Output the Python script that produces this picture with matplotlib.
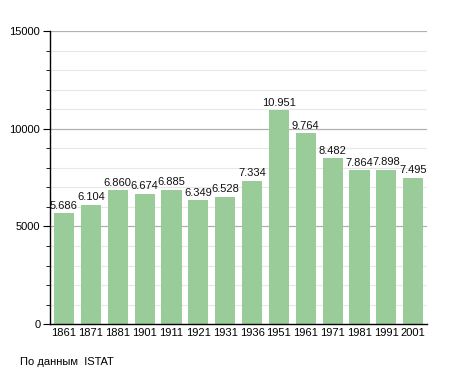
import matplotlib
matplotlib.use('Agg')
import matplotlib.pyplot as plt

anni = ['1861', '1871', '1881', '1901', '1911', '1921', '1931',
        '1936', '1951', '1961', '1971', '1981', '1991', '2001']
abitanti = [5686, 6104, 6860, 6674, 6885, 6349, 6528,
            7334, 10951, 9764, 8482, 7864, 7898, 7495]
etichette = ['5.686', '6.104', '6.860', '6.674', '6.885', '6.349', '6.528',
             '7.334', '10.951', '9.764', '8.482', '7.864', '7.898', '7.495']

plt.rcParams['font.family'] = ['Liberation Sans', 'DejaVu Sans']

fig = plt.figure(figsize=(4.55, 3.73), dpi=100)
ax = fig.add_axes([0.11, 0.131, 0.829, 0.786])

# griglia: minori ogni 1000, principali ogni 5000
for y in range(1000, 15001, 1000):
    if y % 5000 == 0:
        ax.axhline(y, color='#b0b0b0', linewidth=0.9, zorder=0)
    else:
        ax.axhline(y, color='#e8e8e8', linewidth=0.8, zorder=0)

x = range(len(anni))
ax.bar(x, abitanti, width=0.75, color='#99cc99', zorder=2)

for xi, v, lab in zip(x, abitanti, etichette):
    ax.text(xi, v + 120, lab, ha='center', va='bottom', fontsize=8, color='#111111')

ax.set_xlim(-0.52, len(anni) - 0.48)
ax.set_ylim(0, 15000)
ax.set_yticks([0, 5000, 10000, 15000])
ax.set_yticks(range(0, 15001, 1000), minor=True)
ax.set_xticks(list(x))
ax.set_xticklabels(anni)
ax.tick_params(axis='x', length=0, labelsize=8, pad=3)
ax.tick_params(axis='y', which='major', length=5, labelsize=8, pad=2)
ax.tick_params(axis='y', which='minor', length=3)

for s in ['top', 'right']:
    ax.spines[s].set_visible(False)
ax.spines['left'].set_linewidth(1.0)
ax.spines['bottom'].set_linewidth(1.0)

fig.text(20 / 455, 1 - 362 / 373, 'По данным  ISTAT', fontsize=8, va='center', ha='left')

fig.savefig('out.png', dpi=100)
